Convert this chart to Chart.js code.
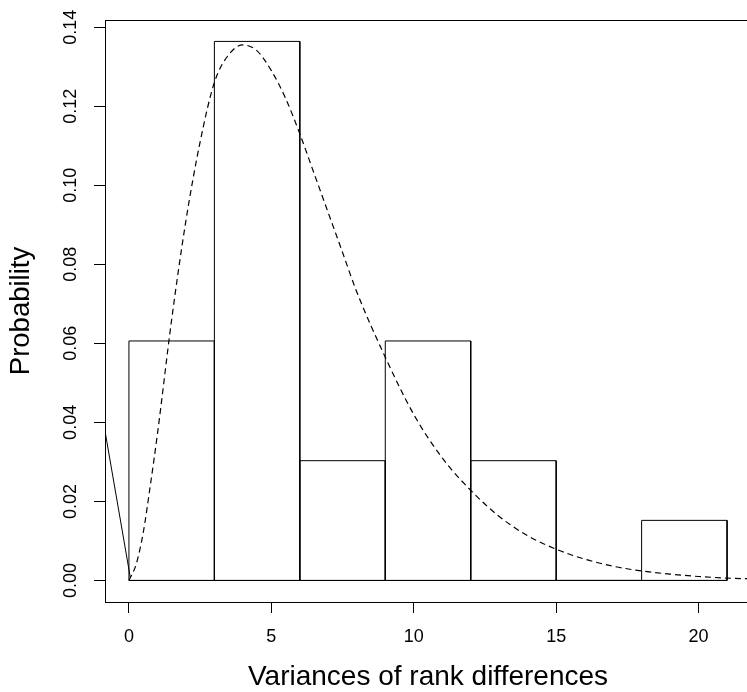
<!DOCTYPE html>
<html>
<head>
<meta charset="utf-8">
<script src="https://cdn.jsdelivr.net/npm/chart.js@4/dist/chart.umd.min.js"></script>
<style>
  html, body { margin: 0; padding: 0; background: #fff; overflow: hidden; }
  #wrap { width: 752px; height: 692px; }
</style>
</head>
<body>
<div id="wrap"><canvas id="canvas1" width="752" height="692"></canvas></div>
<script>
// histogram: bin edges and densities
const binEdges = [0, 3, 6, 9, 12, 15, 18, 21];
const binDensity = [0.0606, 0.1364, 0.0303, 0.0606, 0.0303, 0, 0.0152];

// dashed density curve
const curveX = [0, 0.25, 0.5, 0.75, 1, 1.5, 2, 2.5, 3, 3.5, 4, 4.5, 5, 5.5, 6, 6.5, 7, 7.5, 8, 9, 10, 11, 12, 13, 14, 15, 16, 17, 18, 19, 20, 21, 21.84];
const curveY = [0, 0.004, 0.012, 0.024, 0.037, 0.066, 0.091, 0.111, 0.126, 0.133, 0.1355, 0.134, 0.129, 0.122, 0.113, 0.103, 0.093, 0.083, 0.073, 0.0565, 0.042, 0.031, 0.0228, 0.0162, 0.0113, 0.0079, 0.0054, 0.0036, 0.0024, 0.0016, 0.001, 0.0006, 0.0004];

// short solid line at the left edge
const edgeLineX = [-0.84, 0.05];
const edgeLineY = [0.0378, 0.0007];

const xTicks = [0, 5, 10, 15, 20];
const yTicks = [0, 0.02, 0.04, 0.06, 0.08, 0.10, 0.12, 0.14];

// outline of every bar as a closed rectangle
let histPoints = [];
binDensity.forEach((h, i) => {
  histPoints.push({x: binEdges[i], y: 0});
  histPoints.push({x: binEdges[i], y: h});
  histPoints.push({x: binEdges[i + 1], y: h});
  histPoints.push({x: binEdges[i + 1], y: 0});
  histPoints.push({x: binEdges[i], y: 0});
  histPoints.push({x: binEdges[i + 1], y: 0});
});

const curvePoints = curveX.map((x, i) => ({x: x, y: curveY[i]}));
const edgePoints = edgeLineX.map((x, i) => ({x: x, y: edgeLineY[i]}));

Chart.defaults.color = "#000";
Chart.defaults.font.family = "'Liberation Sans', Arial, sans-serif";

// box around the plot region, like R's default frame
const frame = {
  id: "frame",
  afterDraw(chart) {
    const a = chart.chartArea;
    const ctx = chart.ctx;
    ctx.save();
    ctx.strokeStyle = "#000";
    ctx.lineWidth = 1;
    ctx.strokeRect(Math.round(a.left) + 0.5, Math.round(a.top) + 0.5,
      Math.round(a.right - a.left), Math.round(a.bottom - a.top));
    ctx.restore();
  }
};

var ctx = document.getElementById("canvas1").getContext("2d");
let chart = new Chart(ctx, {
  type: "scatter",
  data: {
    datasets: [
      {
        data: histPoints,
        showLine: true,
        borderColor: "#000",
        borderWidth: 1,
        pointRadius: 0,
        tension: 0
      },
      {
        data: curvePoints,
        showLine: true,
        borderColor: "#000",
        borderWidth: 1.2,
        borderDash: [6, 4],
        pointRadius: 0,
        cubicInterpolationMode: "monotone"
      },
      {
        data: edgePoints,
        showLine: true,
        borderColor: "#000",
        borderWidth: 1,
        pointRadius: 0
      }
    ]
  },
  plugins: [frame],
  options: {
    responsive: false,
    animation: false,
    devicePixelRatio: 1,
    layout: { padding: { top: 20, right: 1, left: 0, bottom: 0 } },
    plugins: { legend: { display: false }, tooltip: { enabled: false } },
    scales: {
      x: {
        type: "linear",
        min: -0.84,
        max: 21.84,
        afterFit: s => { s.height = 90; },
        afterBuildTicks: s => { s.ticks = xTicks.map(v => ({value: v})); },
        border: { display: false },
        grid: { drawOnChartArea: false, drawTicks: true, tickLength: 11, color: "#000" },
        ticks: { font: { size: 18 }, padding: 13, maxRotation: 0 },
        title: {
          display: true,
          text: "Variances of rank differences",
          font: { size: 28 },
          padding: { top: 0, bottom: -2 }
        }
      },
      y: {
        type: "linear",
        min: -0.005455,
        max: 0.141818,
        afterFit: s => { s.width = 105; },
        afterBuildTicks: s => { s.ticks = yTicks.map(v => ({value: v})); },
        border: { display: false },
        grid: { drawOnChartArea: false, drawTicks: true, tickLength: 11, color: "#000" },
        ticks: {
          font: { size: 18 },
          padding: 5,
          minRotation: 90,
          maxRotation: 90,
          crossAlign: "center",
          callback: v => v.toFixed(2)
        },
        title: {
          display: true,
          text: "Probability",
          font: { size: 27.5 },
          padding: { top: 5, bottom: 0 }
        }
      }
    }
  }
});
</script>
</body>
</html>
